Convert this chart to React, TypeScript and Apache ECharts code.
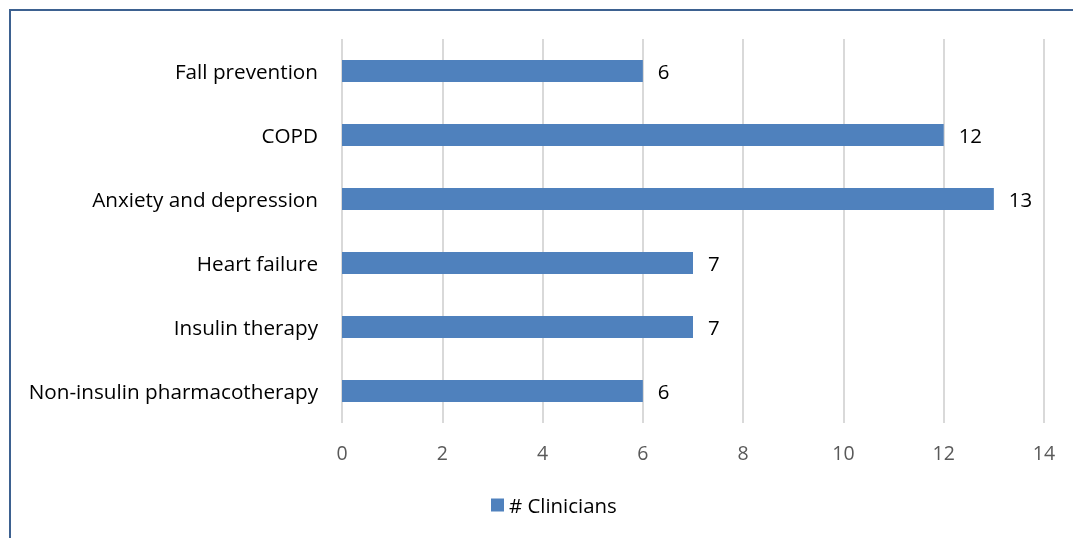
import React, { useEffect, useRef } from "react";
import * as echarts from "echarts";

const categories = [
  "Non-insulin pharmacotherapy",
  "Insulin therapy",
  "Heart failure",
  "Anxiety and depression",
  "COPD",
  "Fall prevention",
];
const clinicians = [6, 7, 7, 13, 12, 6];
const seriesName = "# Clinicians";

const FONT = "'Open Sans', 'Noto Sans', sans-serif";

export default function App() {
  const ref = useRef<HTMLDivElement>(null);
  useEffect(() => {
    const chart = echarts.init(ref.current!, null, { renderer: "svg" });
    chart.setOption({
      animation: false,
      textStyle: { fontFamily: FONT },
      graphic: [
        { type: "line", shape: { x1: 10, y1: 10, x2: 1073, y2: 10 }, style: { stroke: "#3d6190", lineWidth: 2 } },
        { type: "line", shape: { x1: 10, y1: 9, x2: 10, y2: 538 }, style: { stroke: "#3d6190", lineWidth: 2 } },
      ],
      grid: { left: 342, right: 29, top: 39, bottom: 115, containLabel: false },
      xAxis: {
        type: "value",
        min: 0,
        max: 14,
        interval: 2,
        axisLine: { show: false },
        axisTick: { show: false },
        axisLabel: { color: "#595959", fontSize: 19.5, margin: 19, fontFamily: FONT },
        splitLine: { show: true, lineStyle: { color: "#d9d9d9", width: 2 } },
      },
      yAxis: {
        type: "category",
        data: categories,
        axisLine: { show: false },
        axisTick: { show: false },
        axisLabel: { color: "#000000", fontSize: 20.7, margin: 24, fontFamily: FONT },
      },
      legend: {
        bottom: 18,
        left: 486,
        itemWidth: 13,
        itemHeight: 13,
        itemGap: 6,
        textStyle: { color: "#000000", fontSize: 20.4, fontFamily: FONT },
        icon: "rect",
        data: [seriesName],
      },
      series: [
        {
          type: "bar",
          name: seriesName,
          data: clinicians,
          barWidth: 22,
          itemStyle: { color: "#4f81bd" },
          label: {
            show: true,
            position: "right",
            distance: 15,
            color: "#000000",
            fontSize: 20.4,
            fontFamily: FONT,
          },
        },
      ],
    });
    return () => chart.dispose();
  }, []);
  return <div ref={ref} style={{ position: "fixed", left: 0, top: 0, width: 1073, height: 538 }} />;
}
